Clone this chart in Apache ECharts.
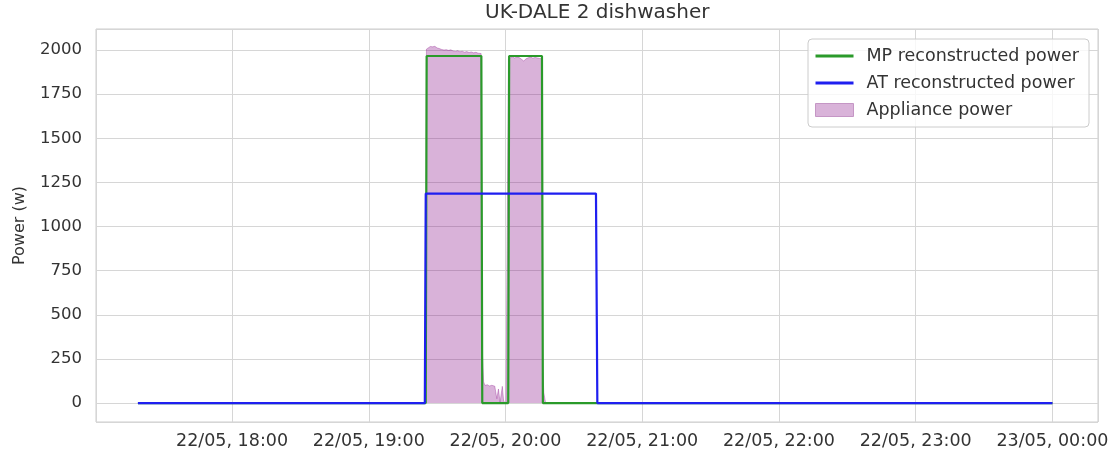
<!DOCTYPE html>
<html>
<head>
<meta charset="utf-8">
<script src="https://cdn.jsdelivr.net/npm/echarts@6/dist/echarts.min.js"></script>
<style>
html,body{margin:0;padding:0;background:#fff;}
#main{width:1116px;height:459px;}
</style>
</head>
<body>
<div id="main"></div>
<script>
// UK-DALE house 2, dishwasher, 22/05 evening
// x values are minutes since 22/05 00:00
var seriesNames = ['MP reconstructed power', 'AT reconstructed power', 'Appliance power'];

var mpT = [1038.7, 1165.0, 1165.4, 1189.4, 1189.8, 1201.2, 1201.6, 1216.0, 1216.4, 1440];
var mpW = [0, 0, 1966, 1966, 0, 0, 1966, 1966, 0, 0];

var atT = [1038.7, 1164.6, 1165.0, 1239.7, 1240.3, 1440];
var atW = [0, 0, 1187, 1187, 0, 0];

var applT = [1038.7, 1164.9, 1165.3, 1166, 1167, 1168, 1169, 1170, 1171, 1172, 1173, 1174, 1175, 1176,
    1177, 1178, 1179, 1180, 1181, 1182, 1183, 1184, 1185, 1186, 1187, 1188, 1189.3, 1189.8, 1190.4,
    1191, 1192, 1193, 1194, 1195.3, 1196.2, 1196.9, 1197.6, 1198.6, 1199.2, 1200.2, 1200.9, 1201.3,
    1202, 1203, 1204, 1205, 1206, 1207, 1208, 1209, 1210, 1211, 1212, 1213, 1214, 1215, 1215.9,
    1216.3, 1216.8, 1217.6, 1440];
var applW = [0, 0, 2005, 2015, 2020, 2018, 2021, 2012, 2008, 2003, 2000, 2002, 1998, 2001,
    1995, 1992, 1996, 1990, 1993, 1988, 1991, 1986, 1989, 1984, 1987, 1982, 1980, 300, 120,
    100, 104, 97, 101, 96, 25, 80, 5, 95, 10, 0, 0, 1950,
    1958, 1962, 1955, 1960, 1957, 1948, 1938, 1950, 1956, 1960, 1954, 1958, 1955, 1952, 1950,
    220, 60, 0, 0];

function zip(t, w) {
    var out = [];
    for (var i = 0; i < t.length; i++) out.push([t[i], w[i]]);
    return out;
}
function pad(n) { return n < 10 ? '0' + n : '' + n; }

var font = 'DejaVu Sans';
var txt = '#333333';
var green = '#2a9a2a', blue = '#1f1ff0';
// hide the circle ECharts puts on line legend icons
var noSymbol = {color: 'rgba(0,0,0,0)', borderColor: 'rgba(0,0,0,0)', borderWidth: 0};

var dom = document.getElementById('main');
var myChart = echarts.init(dom);
var option = {
    animation: false,
    backgroundColor: '#ffffff',
    title: {
        text: 'UK-DALE 2 dishwasher',
        left: 485,
        top: 3,
        padding: 0,
        textStyle: {fontFamily: font, fontSize: 20, fontWeight: 'normal', color: txt}
    },
    legend: {
        orient: 'vertical',
        right: 27,
        top: 39,
        itemWidth: 38,
        itemHeight: 13,
        itemGap: 9,
        padding: [8, 10, 8, 6],
        borderColor: '#cccccc',
        borderWidth: 1,
        borderRadius: 4,
        backgroundColor: 'rgba(255,255,255,0.8)',
        textStyle: {fontFamily: font, fontSize: 17.5, color: txt, padding: [0, 0, 0, 8]},
        data: [
            {name: seriesNames[0], itemStyle: noSymbol, lineStyle: {color: green, width: 3}},
            {name: seriesNames[1], itemStyle: noSymbol, lineStyle: {color: blue, width: 3}},
            {name: seriesNames[2], icon: 'rect', itemStyle: {color: '#d9b3d9', borderColor: '#c596c5', borderWidth: 1}}
        ]
    },
    grid: {
        left: 96, right: 18, top: 29, bottom: 37,
        show: true, borderColor: '#cccccc', borderWidth: 1
    },
    xAxis: {
        type: 'value',
        min: 1020.3,
        max: 1460,
        minInterval: 60,
        maxInterval: 60,
        axisLine: {show: false},
        axisTick: {show: false},
        splitLine: {lineStyle: {color: '#d6d6d6', width: 1}},
        axisLabel: {
            fontFamily: font, fontSize: 17.5, color: txt, margin: 10,
            formatter: function (v) {
                if (Math.abs(v % 60) > 0.001) return '';
                var day = v >= 1440 ? '23/05' : '22/05';
                var h = Math.floor((v % 1440) / 60);
                return day + ', ' + pad(h) + ':00';
            }
        }
    },
    yAxis: {
        type: 'value',
        min: -107,
        max: 2119,
        minInterval: 250,
        maxInterval: 250,
        name: 'Power (w)',
        nameLocation: 'middle',
        nameGap: 68,
        nameTextStyle: {fontFamily: font, fontSize: 16, color: txt},
        axisLine: {show: false},
        axisTick: {show: false},
        splitLine: {lineStyle: {color: '#d6d6d6', width: 1}},
        axisLabel: {
            fontFamily: font, fontSize: 16.5, color: txt, margin: 14,
            formatter: function (v) {
                return Math.abs(v % 250) > 0.001 ? '' : String(v);
            }
        }
    },
    series: [
        {
            name: seriesNames[2],
            type: 'line',
            data: zip(applT, applW),
            symbol: 'none',
            itemStyle: {color: '#d9b3d9'},
            lineStyle: {color: 'rgba(128,0,128,0.3)', width: 1},
            areaStyle: {color: 'rgba(128,0,128,0.3)', opacity: 1, origin: 0}
        },
        {
            name: seriesNames[0],
            type: 'line',
            data: zip(mpT, mpW),
            symbol: 'none',
            itemStyle: {color: green},
            lineStyle: {color: green, width: 2.2}
        },
        {
            name: seriesNames[1],
            type: 'line',
            data: zip(atT, atW),
            symbol: 'none',
            itemStyle: {color: blue},
            lineStyle: {color: blue, width: 2.2}
        }
    ]
};
if (option && typeof option === "object") {
    myChart.setOption(option);
}
</script>
</body>
</html>
